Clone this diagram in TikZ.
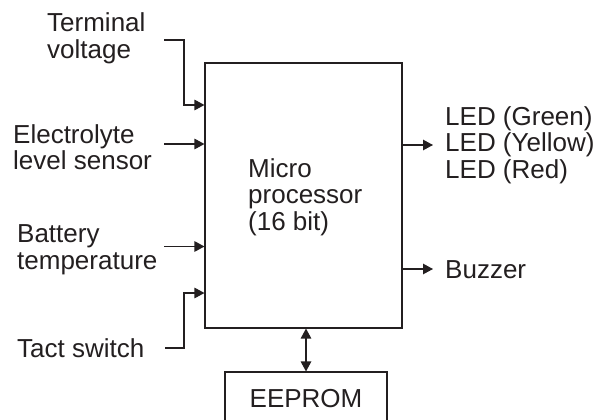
\documentclass[tikz,border=0pt]{standalone}
\usepackage{fontspec}
\setmainfont{Liberation Sans}
\usetikzlibrary{arrows.meta}
\definecolor{ink}{HTML}{231F20}
\begin{document}
\begin{tikzpicture}[x=1pt,y=-1pt,
  txt/.style={font=\fontsize{26}{26.5}\selectfont, text=ink},
  lbl/.style={txt, inner sep=0pt, align=left, anchor=base west},
  box/.style={txt, draw=ink, line width=1.1pt, inner sep=0pt},
  conn/.style={draw=ink, line width=1.2pt},
  tip/.tip={Triangle[length=10pt,width=10.5pt]},
  arr/.style={conn, -tip},
]
\useasboundingbox (0,0) rectangle (608,420);
\clip (0,0) rectangle (608,420);
\fill[white] (0,0) rectangle (608,420);

\node[box, minimum width=197pt, minimum height=265pt] (mp) at (303.5,195.5) {};
\node[lbl] (mpt) at (248,230) {Micro\\processor\\(16 bit)};
\node[box, minimum width=162pt, minimum height=53pt] (eep) at (306,398.5) {EEPROM};

\node[lbl] (tv) at (47,58.5) {Terminal\\voltage};
\node[lbl] (el) at (13,169.5) {Electrolyte\\level sensor};
\node[lbl] (bt) at (17,269) {Battery\\temperature};
\node[lbl] (ts) at (17,357) {Tact switch};
\node[lbl] (led) at (445,178) {LED (Green)\\LED (Yellow)\\LED (Red)};
\node[lbl] (bz) at (445,278) {Buzzer};

\coordinate (tvs) at (164,40);
\coordinate (tvb) at (184,105);
\coordinate (els) at (164,144);
\coordinate (bts) at (164,246.5);
\coordinate (tss) at (165,348);
\coordinate (tsb) at (184,293);
\coordinate (ledt) at (433,145);
\coordinate (bzt) at (433,269);

\draw[arr] (tvs) -| (tvb) -- (tvb -| mp.west);
\draw[arr] (els) -- (els -| mp.west);
\draw[arr] (bts) -- (bts -| mp.west);
\draw[arr] (tss) -| (tsb) -- (tsb -| mp.west);
\draw[arr] (ledt -| mp.east) -- (ledt);
\draw[arr] (bzt -| mp.east) -- (bzt);
\draw[conn, tip-tip] (mp.south -| eep.north) -- (eep.north);
\end{tikzpicture}
\end{document}
